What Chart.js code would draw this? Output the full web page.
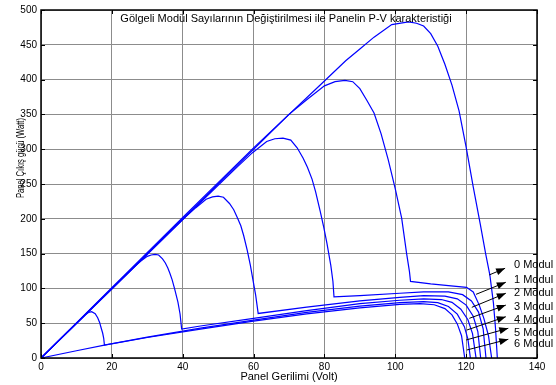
<!DOCTYPE html>
<html>
<head>
<meta charset="utf-8">
<script src="https://cdn.jsdelivr.net/npm/chart.js@4.4.0/dist/chart.umd.min.js"></script>
<style>
  body { margin: 0; background: #fff; }
  canvas { display: block; }
</style>
</head>
<body>
<canvas id="grafikPV" width="556" height="385"></canvas>
<script>
// eksen değerleri
const xTicks = [0, 20, 40, 60, 80, 100, 120, 140];
const yTicks = [0, 50, 100, 150, 200, 250, 300, 350, 400, 450, 500];

// her eğri: gölgeli modül sayısı 0..6 (gerilim V, güç W)
const curve0V = [0, 20, 40, 60, 80, 86, 90, 94, 99, 103.7, 106, 108, 110, 112, 114, 116, 118, 120, 122, 124, 125.5, 126.7, 127.7, 128.3, 128.8];
const curve0P = [0, 101, 202, 302, 398, 427, 444, 461, 479, 483, 481, 477, 466, 448, 422, 392, 355, 303, 246, 192, 150, 119, 79, 42, 0];

const curve1V = [0, 20, 40, 60, 70, 75, 80, 83, 85.8, 88, 90, 92, 94, 96, 98, 100, 101.8, 103.2, 104, 104.3, 110, 115, 120.1, 122, 123.7, 125, 126.3, 127.2];
const curve1P = [0, 100, 200, 300, 350, 371, 391, 397, 399, 397, 387, 370, 352, 322, 285, 243, 201, 150, 124, 110, 106.5, 104, 101.5, 95, 76, 57, 32, 0];

const curve2V = [0, 20, 40, 55.7, 59.7, 63.7, 66, 68.3, 70.5, 72.3, 74, 75.2, 76.5, 77.5, 78.8, 79.8, 80.7, 81.8, 82.4, 82.7, 90, 101.3, 108, 115, 119, 121.5, 123.5, 124.8, 125.6];
const curve2P = [0, 99.5, 199, 276, 295, 311, 315, 316, 313, 302, 287, 274, 257, 239, 211, 188, 165, 133, 110, 88, 89.5, 93, 95, 95, 91, 82, 66, 42, 0];

const curve3V = [0, 20, 40.8, 43.7, 46.6, 48.4, 50, 51.5, 53.2, 54.4, 55.4, 56.4, 57.2, 58.2, 59.1, 59.9, 60.6, 61.3, 75, 90, 101.3, 108, 114, 117.5, 120, 122, 123.3, 124.1];
const curve3P = [0, 99, 203, 216, 228, 231.5, 232.5, 231, 222, 213, 202, 190, 176, 155, 133, 110, 90, 64, 73, 82, 87, 89.5, 89, 85, 76, 60, 38, 0];

const curve4V = [0, 20, 26.3, 28.1, 30, 31.1, 32.2, 33.2, 34.3, 35.1, 35.8, 36.4, 37, 37.7, 38.65, 39.25, 39.7, 45, 60, 75, 90, 101.3, 108, 113, 116, 118.5, 120.5, 121.8, 122.8];
const curve4P = [0, 100, 131, 139, 146, 148, 149, 148, 142.5, 136.5, 129.4, 121.5, 112.7, 99.6, 80.3, 63.2, 41.7, 46, 57, 68, 78, 83, 85, 84, 80, 70, 55, 35, 0];

const curve5V = [0, 5, 10, 11.7, 12.5, 13.3, 13.8, 14.3, 15.3, 16, 16.6, 16.9, 17.4, 17.7, 17.9, 30, 45, 60, 75, 90, 101.3, 108, 112, 115, 117.5, 119.5, 120.5, 121.2];
const curve5P = [0, 25, 50, 58, 62, 65, 66, 66.5, 63.6, 57.8, 50.3, 44.5, 35.9, 28.3, 18.7, 30, 42.8, 54.5, 65.5, 74.5, 79.5, 81, 79.5, 74, 63, 45, 27, 0];

const curve6V = [0, 10, 17.9, 30, 45, 60, 75, 90, 101.3, 107, 111, 114, 116, 117.5, 118.7, 119.6];
const curve6P = [0, 10.4, 18.5, 29.5, 41.5, 53, 63.5, 72, 77, 78, 76.5, 71, 62, 49, 32, 0];

// etiketler ve oklar
const moduleLabels = ['0 Modul', '1 Modul', '2 Modul', '3 Modul', '4 Modul', '5 Modul', '6 Modul'];
const labelV = 133.5;
const labelP = [133.6, 112, 93, 73.7, 54.6, 36.4, 20.1];
const arrowTailV = [126.5, 122.8, 121.6, 120.9, 120.2, 120, 120.2];
const arrowTailP = [119.3, 91.5, 72.8, 57, 40.2, 25.9, 11.5];
const arrowHeadV = [131, 131.2, 131.2, 131.2, 131.2, 131.9, 131.9];
const arrowHeadP = [128.9, 108.8, 93, 76, 59.3, 42.7, 26.9];

const baslik = 'Gölgeli Modül Sayılarının Değiştirilmesi ile Panelin P-V karakteristiği';
const xBaslik = 'Panel Gerilimi (Volt)';
const yBaslik = 'Panel Çıkış gücü (Watt)';

const curves = [
    [curve0V, curve0P], [curve1V, curve1P], [curve2V, curve2P], [curve3V, curve3P],
    [curve4V, curve4P], [curve5V, curve5P], [curve6V, curve6P]
];

const FONT = '"Liberation Sans", Arial, sans-serif';

const matlabCerceve = {
    id: 'matlabCerceve',
    afterDraw(chart) {
        const { ctx, chartArea: a, scales: { x, y } } = chart;
        ctx.save();

        // kutu
        ctx.strokeStyle = '#000';
        ctx.lineWidth = 1.5;
        ctx.strokeRect(a.left, a.top, a.right - a.left, a.bottom - a.top);

        // içe dönük tikler
        ctx.lineWidth = 1;
        ctx.beginPath();
        xTicks.forEach(v => {
            const px = Math.round(x.getPixelForValue(v)) + 0.5;
            ctx.moveTo(px, a.bottom); ctx.lineTo(px, a.bottom - 4);
            ctx.moveTo(px, a.top); ctx.lineTo(px, a.top + 4);
        });
        yTicks.forEach(v => {
            const py = Math.round(y.getPixelForValue(v)) + 0.5;
            ctx.moveTo(a.left, py); ctx.lineTo(a.left + 4, py);
            ctx.moveTo(a.right, py); ctx.lineTo(a.right - 4, py);
        });
        ctx.stroke();

        // başlıklar
        ctx.fillStyle = '#000';
        ctx.font = '11px ' + FONT;
        ctx.textAlign = 'center';
        ctx.textBaseline = 'middle';
        ctx.fillText(baslik, (a.left + a.right) / 2 - 3, 19);
        ctx.fillText(xBaslik, (a.left + a.right) / 2, 377);

        ctx.save();
        ctx.font = '10px ' + FONT;
        ctx.translate(21, 158);
        ctx.rotate(-Math.PI / 2);
        const w = ctx.measureText(yBaslik).width;
        ctx.scale(80 / w, 1);
        ctx.fillText(yBaslik, 0, 0);
        ctx.restore();

        // oklar
        ctx.strokeStyle = '#000';
        ctx.fillStyle = '#000';
        ctx.lineWidth = 1;
        arrowTailV.forEach((v, i) => {
            const x1 = x.getPixelForValue(v), y1 = y.getPixelForValue(arrowTailP[i]);
            const x2 = x.getPixelForValue(arrowHeadV[i]), y2 = y.getPixelForValue(arrowHeadP[i]);
            const ang = Math.atan2(y2 - y1, x2 - x1);
            ctx.beginPath();
            ctx.moveTo(x1, y1);
            ctx.lineTo(x2, y2);
            ctx.stroke();
            ctx.beginPath();
            ctx.moveTo(x2, y2);
            ctx.lineTo(x2 - 9 * Math.cos(ang) + 3.5 * Math.sin(ang), y2 - 9 * Math.sin(ang) - 3.5 * Math.cos(ang));
            ctx.lineTo(x2 - 9 * Math.cos(ang) - 3.5 * Math.sin(ang), y2 - 9 * Math.sin(ang) + 3.5 * Math.cos(ang));
            ctx.closePath();
            ctx.fill();
        });

        // modül etiketleri
        ctx.font = '11px ' + FONT;
        ctx.textAlign = 'left';
        moduleLabels.forEach((t, i) => {
            ctx.fillText(t, x.getPixelForValue(labelV), y.getPixelForValue(labelP[i]));
        });

        ctx.restore();
    }
};

new Chart(document.getElementById('grafikPV'), {
    type: 'scatter',
    data: {
        datasets: curves.map(([vs, ps], i) => ({
            label: moduleLabels[i],
            data: vs.map((v, j) => ({ x: v, y: ps[j] })),
            showLine: true,
            borderColor: '#0000ff',
            borderWidth: 1.2,
            pointRadius: 0,
            fill: false,
            tension: 0
        }))
    },
    options: {
        responsive: false,
        animation: false,
        devicePixelRatio: 1,
        layout: { padding: { left: 0, right: 19, top: 10, bottom: 0 } },
        plugins: { legend: { display: false }, tooltip: { enabled: false } },
        scales: {
            x: {
                type: 'linear', min: 0, max: 140,
                afterBuildTicks: s => { s.ticks = xTicks.map(v => ({ value: v })); },
                afterFit: s => { s.height = 27; },
                ticks: { color: '#000', font: { size: 10, family: FONT }, padding: 3, maxRotation: 0 },
                grid: { color: '#8c8c8c', drawTicks: false },
                border: { display: false }
            },
            y: {
                min: 0, max: 500,
                afterBuildTicks: s => { s.ticks = yTicks.map(v => ({ value: v })); },
                afterFit: s => { s.width = 41; },
                ticks: { color: '#000', font: { size: 10, family: FONT }, padding: 4 },
                grid: { color: '#8c8c8c', drawTicks: false },
                border: { display: false }
            }
        }
    },
    plugins: [matlabCerceve]
});
</script>
</body>
</html>
